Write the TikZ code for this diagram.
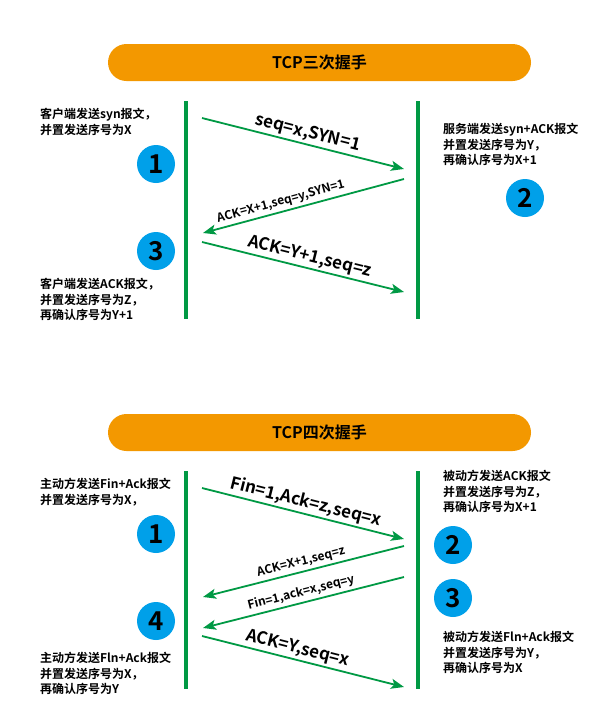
\documentclass[tikz,border=0pt]{standalone}
\usepackage{fontspec}
\setmainfont{Noto Sans CJK SC}[BoldFont={Noto Sans CJK SC Bold}]
\usetikzlibrary{arrows.meta}
\definecolor{hsorange}{HTML}{F39800}
\definecolor{hsgreen}{HTML}{009944}
\definecolor{hsblue}{HTML}{00A0E9}

\begin{document}
\begin{tikzpicture}[x=1pt,y=-1pt,
	banner/.style={fill=hsorange, rounded corners=18.5pt, minimum width=423pt, minimum height=37pt, inner sep=0pt, font=\fontsize{16}{16}\selectfont\bfseries},
	lifeline/.style={hsgreen, line width=4.5pt},
	msg/.style={hsgreen, line width=1.8pt, -{Stealth[length=13pt,width=10pt,inset=3pt]}},
	num/.style={circle, fill=hsblue, minimum size=38pt, inner sep=0pt, font=\fontsize{26}{26}\selectfont\bfseries},
	note/.style={anchor=north west, align=left, inner sep=0pt, font=\fontsize{12}{15.5}\selectfont\bfseries},
	lblbig/.style={sloped, above=2pt, inner sep=0pt, text=black, font=\fontsize{17}{17}\selectfont\bfseries},
	lblsmall/.style={sloped, above=3pt, inner sep=0pt, text=black, font=\fontsize{12}{12}\selectfont\bfseries}]
		\fill[white] (0,0) rectangle (608,724);
		\useasboundingbox (0,0) rectangle (608,724);
		\draw (319.5,62.5) node[banner] (hs3) {TCP三次握手};
		\draw (319.5,432.5) node[banner] (hs4) {TCP四次握手};
		\coordinate (c3t) at (186,101); \coordinate (c3b) at (186,319);
		\coordinate (s3t) at (418,101); \coordinate (s3b) at (418,319);
		\coordinate (c4t) at (186,471); \coordinate (c4b) at (186,689);
		\coordinate (s4t) at (418,471); \coordinate (s4b) at (418,689);
		\draw[lifeline] (c3t) -- (c3b);
		\draw[lifeline] (s3t) -- (s3b);
		\draw[lifeline] (c4t) -- (c4b);
		\draw[lifeline] (s4t) -- (s4b);
		\draw (40,108) node[note] (cl1) {客户端发送syn报文，\\并置发送序号为X};
		\draw (443,123) node[note] (sv2) {服务端发送syn+ACK报文\\并置发送序号为Y，\\再确认序号为X+1};
		\draw (40,278) node[note] (cl3) {客户端发送ACK报文，\\并置发送序号为Z，\\再确认序号为Y+1};
		\draw (40,478) node[note] (ac1) {主动方发送Fin+Ack报文\\并置发送序号为X，};
		\draw (443,470) node[note] (pa2) {被动方发送ACK报文\\并置发送序号为Z，\\再确认序号为X+1};
		\draw (443,631) node[note] (pa3) {被动方发送Fln+Ack报文\\并置发送序号为Y，\\再确认序号为X};
		\draw (40,652) node[note] (ac4) {主动方发送Fln+Ack报文\\并置发送序号为X，\\再确认序号为Y};
		\draw (156,164) node[num] (n31) {1};
		\draw (525,198) node[num] (n32) {2};
		\draw (156,251) node[num] (n33) {3};
		\draw (156,534) node[num] (n41) {1};
		\draw (453,545) node[num] (n42) {2};
		\draw (453,598) node[num] (n43) {3};
		\draw (156,621) node[num] (n44) {4};
		\coordinate (a1s) at (202,118); \coordinate (a1e) at (404,169);
		\coordinate (a2s) at (404,179); \coordinate (a2e) at (203,233);
		\coordinate (a3s) at (202,242); \coordinate (a3e) at (404,292);
		\coordinate (b1s) at (202,488); \coordinate (b1e) at (404,539);
		\coordinate (b2s) at (404,546); \coordinate (b2e) at (203,597);
		\coordinate (b3s) at (404,577); \coordinate (b3e) at (203,628);
		\coordinate (b4s) at (202,636); \coordinate (b4e) at (404,687);
		\draw[msg] (a1s) -- node[lblbig, pos=0.51] {seq=x,SYN=1} (a1e);
		\draw[msg] (a2s) -- node[lblsmall, pos=0.6] {ACK=X+1,seq=y,SYN=1} (a2e);
		\draw[msg] (a3s) -- node[lblbig, pos=0.52] {ACK=Y+1,seq=z} (a3e);
		\draw[msg] (b1s) -- node[lblbig, pos=0.5] {Fin=1,Ack=z,seq=x} (b1e);
		\draw[msg] (b2s) -- node[lblsmall, pos=0.5] {ACK=X+1,seq=z} (b2e);
		\draw[msg] (b3s) -- node[lblsmall, pos=0.5] {Fin=1,ack=x,seq=y} (b3e);
		\draw[msg] (b4s) -- node[lblbig, pos=0.46] {ACK=Y,seq=x} (b4e);
	\end{tikzpicture}
\end{document}
